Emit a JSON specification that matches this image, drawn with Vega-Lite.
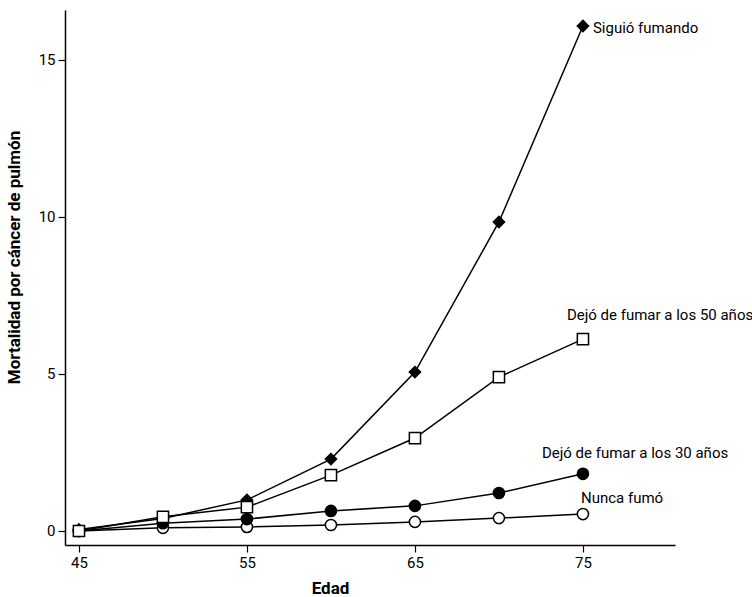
{
  "$schema": "https://vega.github.io/schema/vega-lite/v6.json",
  "width": 610,
  "height": 535,
  "autosize": "none",
  "padding": {"left": 65, "top": 10, "right": 77, "bottom": 52},
  "background": "white",
  "config": {
    "view": {"stroke": null},
    "font": "Roboto",
    "axis": {"grid": false, "domainColor": "black", "domainWidth": 1.5, "tickColor": "black", "tickWidth": 1.2, "tickSize": 7, "labelColor": "black", "labelFontSize": 15, "titleFontSize": 17, "titleFontWeight": "bold", "titleColor": "black", "labelFont": "Roboto", "titleFont": "Roboto"}
  },
  "data": {
    "values": [
      {"edad": 45, "serie": "Nunca fumó", "valor": 0.0},
      {"edad": 50, "serie": "Nunca fumó", "valor": 0.1},
      {"edad": 55, "serie": "Nunca fumó", "valor": 0.13},
      {"edad": 60, "serie": "Nunca fumó", "valor": 0.19},
      {"edad": 65, "serie": "Nunca fumó", "valor": 0.29},
      {"edad": 70, "serie": "Nunca fumó", "valor": 0.41},
      {"edad": 75, "serie": "Nunca fumó", "valor": 0.54},
      {"edad": 45, "serie": "Dejó de fumar a los 30 años", "valor": 0.0},
      {"edad": 50, "serie": "Dejó de fumar a los 30 años", "valor": 0.25},
      {"edad": 55, "serie": "Dejó de fumar a los 30 años", "valor": 0.38},
      {"edad": 60, "serie": "Dejó de fumar a los 30 años", "valor": 0.64},
      {"edad": 65, "serie": "Dejó de fumar a los 30 años", "valor": 0.8},
      {"edad": 70, "serie": "Dejó de fumar a los 30 años", "valor": 1.21},
      {"edad": 75, "serie": "Dejó de fumar a los 30 años", "valor": 1.82},
      {"edad": 45, "serie": "Siguió fumando", "valor": 0.05},
      {"edad": 50, "serie": "Siguió fumando", "valor": 0.4},
      {"edad": 55, "serie": "Siguió fumando", "valor": 0.99},
      {"edad": 60, "serie": "Siguió fumando", "valor": 2.29},
      {"edad": 65, "serie": "Siguió fumando", "valor": 5.06},
      {"edad": 70, "serie": "Siguió fumando", "valor": 9.84},
      {"edad": 75, "serie": "Siguió fumando", "valor": 16.08},
      {"edad": 45, "serie": "Dejó de fumar a los 50 años", "valor": 0.0},
      {"edad": 50, "serie": "Dejó de fumar a los 50 años", "valor": 0.45},
      {"edad": 55, "serie": "Dejó de fumar a los 50 años", "valor": 0.76},
      {"edad": 60, "serie": "Dejó de fumar a los 50 años", "valor": 1.78},
      {"edad": 65, "serie": "Dejó de fumar a los 50 años", "valor": 2.96},
      {"edad": 70, "serie": "Dejó de fumar a los 50 años", "valor": 4.9},
      {"edad": 75, "serie": "Dejó de fumar a los 50 años", "valor": 6.11}
    ]
  },
  "encoding": {
    "x": {"field": "edad", "type": "quantitative", "title": "Edad",
      "scale": {"domain": [44.17, 80.48], "nice": false, "zero": false},
      "axis": {"values": [45, 55, 65, 75], "labelPadding": 3, "titleX": 265, "titleY": 43, "titleBaseline": "middle", "titleAlign": "center"}},
    "y": {"field": "valor", "type": "quantitative", "title": "Mortalidad por cáncer de pulmón",
      "scale": {"domain": [-0.446, 16.59], "nice": false, "zero": false},
      "axis": {"values": [0, 5, 10, 15], "labelPadding": 3, "titleX": -51, "titleY": 247, "titleBaseline": "middle", "titleAlign": "center", "titleAngle": -90}}
  },
  "layer": [
    {"mark": {"type": "line", "color": "black", "strokeWidth": 1.5},
     "encoding": {"detail": {"field": "serie"}}},
    {"mark": {"type": "point", "filled": false, "opacity": 1, "strokeWidth": 1.5, "stroke": "black"},
     "encoding": {
       "shape": {"field": "serie", "legend": null, "scale": {"domain": ["Nunca fumó", "Dejó de fumar a los 30 años", "Siguió fumando", "Dejó de fumar a los 50 años"], "range": ["circle", "circle", "diamond", "square"]}},
       "fill": {"field": "serie", "legend": null, "scale": {"domain": ["Nunca fumó", "Dejó de fumar a los 30 años", "Siguió fumando", "Dejó de fumar a los 50 años"], "range": ["white", "black", "black", "white"]}},
       "size": {"field": "serie", "legend": null, "scale": {"domain": ["Nunca fumó", "Dejó de fumar a los 30 años", "Siguió fumando", "Dejó de fumar a los 50 años"], "range": [125, 125, 220, 125]}}
     }},
    {"transform": [{"filter": "datum.edad == 75 && datum.serie == 'Siguió fumando'"}],
     "mark": {"type": "text", "align": "left", "baseline": "middle", "dx": 10, "dy": 2, "fontSize": 15, "color": "black"},
     "encoding": {"text": {"field": "serie"}}},
    {"transform": [{"filter": "datum.edad == 75 && datum.serie == 'Dejó de fumar a los 50 años'"}],
     "mark": {"type": "text", "align": "left", "baseline": "middle", "dx": -16, "dy": -24, "fontSize": 15, "color": "black"},
     "encoding": {"text": {"field": "serie"}}},
    {"transform": [{"filter": "datum.edad == 75 && datum.serie == 'Dejó de fumar a los 30 años'"}],
     "mark": {"type": "text", "align": "left", "baseline": "middle", "dx": -41, "dy": -21, "fontSize": 15, "color": "black"},
     "encoding": {"text": {"field": "serie"}}},
    {"transform": [{"filter": "datum.edad == 75 && datum.serie == 'Nunca fumó'"}],
     "mark": {"type": "text", "align": "left", "baseline": "middle", "dx": -2, "dy": -16, "fontSize": 15, "color": "black"},
     "encoding": {"text": {"field": "serie"}}}
  ]
}
